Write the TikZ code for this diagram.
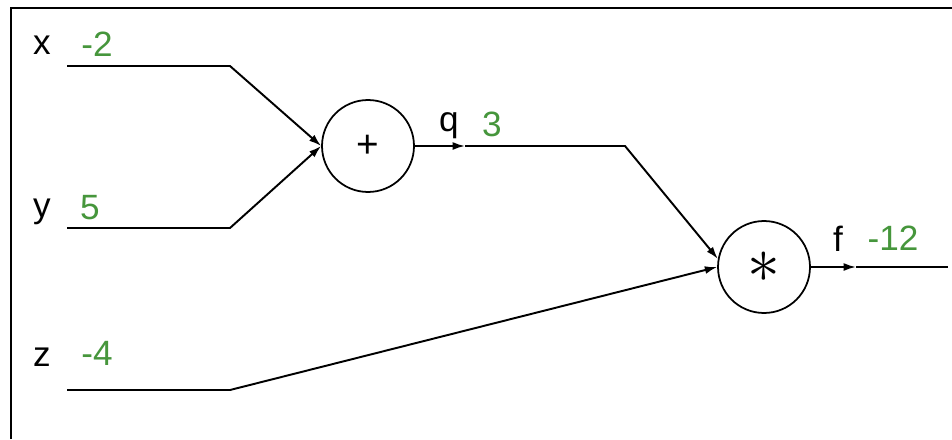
\documentclass[tikz,border=0pt]{standalone}
\usepackage{fontspec}
\setmainfont{Liberation Sans}
\usetikzlibrary{arrows.meta}
\definecolor{valgreen}{RGB}{70,150,60}
\tikzset{
  gate/.style={draw,circle,line width=1pt,minimum size=1.84cm,inner sep=0pt,font=\fontsize{22}{24}\selectfont},
  wire/.style={line width=1.1pt,-{Latex[length=7pt,width=4.5pt]}},
  lbl/.style={font=\fontsize{20}{22}\selectfont,inner sep=0pt},
  val/.style={lbl,text=valgreen}
}
\begin{document}
\begin{tikzpicture}[x=0.02cm,y=-0.02cm]
\useasboundingbox (0,0) rectangle (952,439);
\draw[line width=1.2pt] (11,439) -- (11,8) -- (952,8);
% gates
\node[gate] (plus) at (368,146) {+};
\node[gate] (times) at (764,267) {\scalebox{1.8}{$\ast$}};
% inputs
\coordinate (xin) at (67,66);
\coordinate (xbend) at (230,66);
\coordinate (yin) at (67,228);
\coordinate (ybend) at (230,228);
\coordinate (zin) at (67,390);
\coordinate (zbend) at (230,390);
\coordinate (qtip) at (465,146);
\coordinate (qbend) at (625,146);
\coordinate (ftip) at (856,267);
\coordinate (fout) at (948,267);
% labels
\node[lbl] (xl) at (42,45) {x};
\node[val] (xv) at (97,44) {-2};
\node[lbl] (yl) at (42,212) {y};
\node[val] (yv) at (90,208) {5};
\node[lbl] (zl) at (42,357) {z};
\node[val] (zv) at (97,353) {-4};
\node[lbl] (ql) at (449,126) {q};
\node[val] (qv) at (492,124) {3};
\node[lbl] (fl) at (838,239) {f};
\node[val] (fv) at (893,238) {-12};
% wires
\draw[wire] (xin) -- (xbend) -- (plus.west);
\draw[wire] (yin) -- (ybend) -- (plus.west);
\draw[wire] (plus.east) -- (qtip);
\draw[wire] (qtip) -- (qbend) -- (times.170);
\draw[wire] (zin) -- (zbend) -- (times.west);
\draw[wire] (times.east) -- (ftip);
\draw[wire,-] (ftip) -- (fout);
\end{tikzpicture}
\end{document}
